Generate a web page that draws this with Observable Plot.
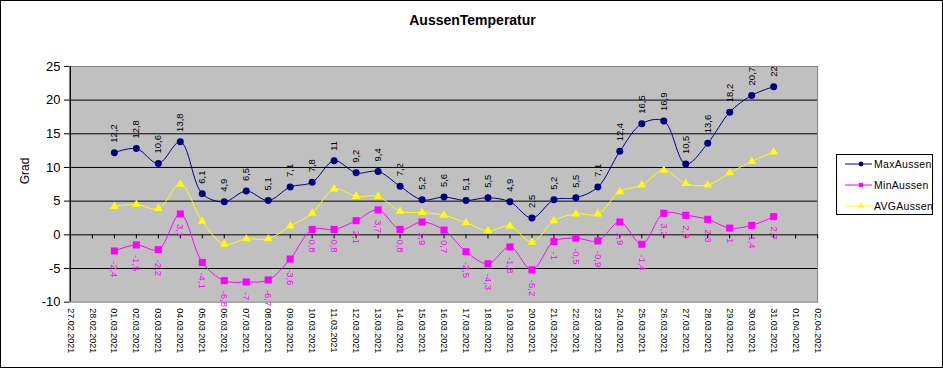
<!DOCTYPE html>
<html>
<head>
<meta charset="utf-8">
<script src="https://cdn.jsdelivr.net/npm/d3@7"></script>
<script src="https://cdn.jsdelivr.net/npm/@observablehq/plot@0.6"></script>
<style>
  html, body { margin: 0; padding: 0; background: #fff; }
  #wrap { position: relative; width: 943px; height: 368px; box-sizing: border-box; border: 1px solid #000; overflow: hidden; font-family: "Liberation Sans", Arial, sans-serif; }
  #title { position: absolute; left: 0; width: 943px; top: 11px; text-align: center; font-weight: bold; font-size: 14px; color: #000; }
  #chart { position: absolute; left: -1px; top: -1px; }
  #legend { position: absolute; left: 835px; top: 153px; width: 97px; height: 61px; box-sizing: border-box; border: 1px solid #000; background: #fff; }
  #legend svg { display: block; }
</style>
</head>
<body>
<div id="wrap">
  <div id="chart"></div>
  <div id="title">AussenTemperatur</div>
  <div id="legend"></div>
</div>
<script>
// ---- data ----
const dateLabels = [
  "27.02.2021","28.02.2021",
  "01.03.2021","02.03.2021","03.03.2021","04.03.2021","05.03.2021","06.03.2021","07.03.2021","08.03.2021",
  "09.03.2021","10.03.2021","11.03.2021","12.03.2021","13.03.2021","14.03.2021","15.03.2021","16.03.2021",
  "17.03.2021","18.03.2021","19.03.2021","20.03.2021","21.03.2021","22.03.2021","23.03.2021","24.03.2021",
  "25.03.2021","26.03.2021","27.03.2021","28.03.2021","29.03.2021","30.03.2021","31.03.2021",
  "01.04.2021","02.04.2021"
];
const seriesDates = dateLabels.slice(2, 33); // 01.03 – 31.03
const maxAussen = [12.2, 12.8, 10.6, 13.8, 6.1, 4.9, 6.5, 5.1, 7.1, 7.8, 11, 9.2, 9.4, 7.2, 5.2, 5.6,
                   5.1, 5.5, 4.9, 2.5, 5.2, 5.5, 7.1, 12.4, 16.5, 16.9, 10.5, 13.6, 18.2, 20.7, 22];
const minAussen = [-2.4, -1.5, -2.2, 3.1, -4.1, -6.8, -7, -6.7, -3.6, 0.8, 0.8, 2.1, 3.7, 0.8, 1.9, 0.7,
                   -2.5, -4.3, -1.8, -5.2, -1, -0.5, -0.9, 1.9, -1.4, 3.2, 2.9, 2.3, 1, 1.4, 2.7];
const avgAussen = [4.2, 4.5, 3.9, 7.5, 2.0, -1.4, -0.6, -0.6, 1.3, 3.2, 6.8, 5.7, 5.7, 3.5, 3.3, 2.9,
                   1.8, 0.6, 1.3, -1.1, 2.1, 3.1, 3.1, 6.4, 7.4, 9.6, 7.6, 7.4, 9.2, 10.9, 12.3];
const yTicks = [-10, -5, 0, 5, 10, 15, 20, 25];
const gridValues = [-5, 0, 5, 10, 15, 20];
const seriesNames = ["MaxAussen", "MinAussen", "AVGAussen"];
const seriesColors = ["#000080", "#ff00ff", "#ffff00"];

// ---- build tables ----
const rows = (vals) => vals.map((v, i) => ({date: seriesDates[i], v}));
const maxRows = rows(maxAussen), minRows = rows(minAussen), avgRows = rows(avgAussen);
const fmt = (v) => String(v).replace(".", ",");

const chart = Plot.plot({
  width: 943,
  height: 368,
  marginLeft: 69,
  marginRight: 125,
  marginTop: 66,
  marginBottom: 66,
  x: {type: "point", domain: dateLabels, padding: 0},
  y: {domain: [-10, 25]},
  style: {fontFamily: "'Liberation Sans', Arial, sans-serif", background: "transparent", color: "#000"},
  marks: [
    Plot.frame({fill: "#c0c0c0", stroke: "#808080"}),
    Plot.ruleY(gridValues, {stroke: "#000", strokeWidth: 1}),
    Plot.ruleX([dateLabels[0]], {y1: -10, y2: 25, stroke: "#000"}),
    Plot.ruleX(dateLabels, {x: d => d, y1: 0, y2: -0.6, stroke: "#000"}),
    Plot.axisY({ticks: yTicks, tickSize: 5, tickPadding: 4, fontSize: 13, tickFormat: d => String(d), label: null}),
    Plot.axisX({tickRotate: 90, tickSize: 0, tickPadding: 6, fontSize: 9, label: null}),
    Plot.text(["Grad"], {frameAnchor: "left", dx: -44, rotate: -90, fontSize: 12, text: d => d}),
    Plot.line(avgRows, {x: "date", y: "v", stroke: seriesColors[2], strokeWidth: 1, curve: "catmull-rom"}),
    Plot.line(minRows, {x: "date", y: "v", stroke: seriesColors[1], strokeWidth: 1, curve: "catmull-rom"}),
    Plot.line(maxRows, {x: "date", y: "v", stroke: seriesColors[0], strokeWidth: 1, curve: "catmull-rom"}),
    Plot.dot(avgRows, {x: "date", y: "v", symbol: "triangle", r: 3.2, fill: seriesColors[2]}),
    Plot.dot(minRows, {x: "date", y: "v", symbol: "square", r: 4, fill: seriesColors[1]}),
    Plot.dot(maxRows, {x: "date", y: "v", symbol: "circle", r: 3.5, fill: seriesColors[0]}),
    Plot.text(maxRows, {x: "date", y: "v", text: d => fmt(d.v), rotate: -90, textAnchor: "start", dy: -10, fontSize: 9.5, fill: "#000"}),
    Plot.text(minRows, {x: "date", y: "v", text: d => fmt(d.v), rotate: 90, textAnchor: "start", dy: 10, fontSize: 9.5, fill: seriesColors[1]})
  ]
});
document.getElementById("chart").appendChild(chart);

// ---- legend ----
const lg = d3.select("#legend").append("svg").attr("width", 95).attr("height", 59);
const symbols = [d3.symbolCircle, d3.symbolSquare, d3.symbolTriangle];
seriesNames.forEach((name, i) => {
  const y = 9 + i * 21;
  const g = lg.append("g").attr("transform", `translate(0,${y})`);
  g.append("line").attr("x1", 8).attr("x2", 35).attr("y1", 0).attr("y2", 0).attr("stroke", seriesColors[i]);
  g.append("path").attr("d", d3.symbol(symbols[i], 18)()).attr("transform", "translate(24,0)").attr("fill", seriesColors[i]);
  g.append("text").attr("x", 37).attr("y", 0).attr("dy", "0.35em").attr("font-size", 10.5)
    .attr("font-family", "'Liberation Sans', Arial, sans-serif").attr("letter-spacing", 0.3).text(name);
});
</script>
</body>
</html>
